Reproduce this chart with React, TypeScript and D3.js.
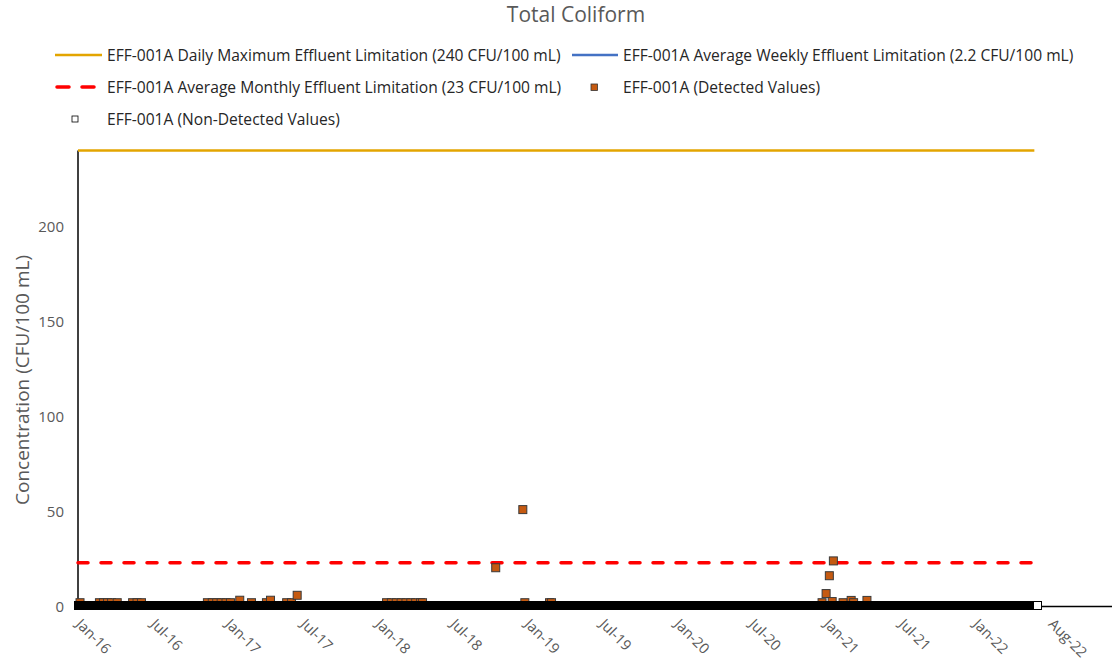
import React from 'react';
import * as d3 from 'd3';

const parse = d3.timeParse('%Y-%m-%d');

// ---- data ----
const chartTitle = 'Total Coliform';
const yAxisTitle = 'Concentration (CFU/100 mL)';
const xDomain = ['2016-01-01', '2023-01-01'];
const yDomain = [0, 240];
const yTicks = [0, 50, 100, 150, 200];
const xTickDates = [
  '2016-01-01', '2016-07-04', '2017-01-05', '2017-07-10', '2018-01-11', '2018-07-15', '2019-01-15',
  '2019-07-19', '2020-01-20', '2020-07-23', '2021-01-24', '2021-07-28', '2022-01-28', '2022-08-02',
];

const dailyMaxLimit = 240;
const weeklyLimit = 2.2;
const monthlyLimit = 23;
const limitPeriod = ['2016-01-01', '2022-06-23'];

const detectedDates = [
  '2016-01-06', '2016-02-23', '2016-03-04', '2016-03-14', '2016-03-24', '2016-04-07',
  '2016-05-15', '2016-05-26', '2016-06-06',
  '2016-11-16', '2016-11-28', '2016-12-09', '2016-12-20', '2017-01-01', '2017-01-12',
  '2017-02-04', '2017-03-05', '2017-04-11', '2017-04-21', '2017-05-31', '2017-06-12', '2017-06-26',
  '2018-02-02', '2018-02-14', '2018-02-26', '2018-03-10', '2018-03-22', '2018-04-03', '2018-04-15',
  '2018-04-27', '2018-05-02',
  '2018-10-30', '2019-01-05', '2019-01-10', '2019-03-12', '2019-03-17',
  '2021-01-14', '2021-01-24', '2021-02-01', '2021-02-08', '2021-02-11', '2021-03-07', '2021-03-27',
  '2021-04-02', '2021-05-05',
];
const detectedValues = [
  2, 2, 2, 2, 2, 2,
  2, 2, 2,
  2, 2, 2, 2, 2, 2,
  3.3, 2, 2, 3.3, 2, 2, 5.9,
  2, 2, 2, 2, 2, 2, 2,
  2, 2,
  20.4, 51, 2, 2, 2,
  2, 6.8, 16.2, 2.6, 24, 2, 3.2,
  2, 3.2,
];

// daily monitoring period with non-detected results
const nonDetectPeriod = ['2016-01-01', '2022-06-30'];
const nonDetectValue = 0.5;

const legendLabels = [
  'EFF-001A Daily Maximum Effluent Limitation (240 CFU/100 mL)',
  'EFF-001A Average Weekly Effluent Limitation (2.2 CFU/100 mL)',
  'EFF-001A Average Monthly Effluent Limitation (23 CFU/100 mL)',
  'EFF-001A (Detected Values)',
  'EFF-001A (Non-Detected Values)',
];

// ---- style ----
const W = 1116;
const H = 661;
const FONT = '"Open Sans", "Noto Sans", sans-serif';
const TXT = '#595959';
const GOLD = '#E3A500';
const BLUE = '#4472C4';
const RED = '#FF0000';
const ORANGE = '#C55A11';

export default function App() {
  const x = d3.scaleTime().domain(xDomain.map((d) => parse(d) as Date)).range([78, 1112]);
  const y = d3.scaleLinear().domain(yDomain).range([606.5, 150.5]);

  const limStart = parse(limitPeriod[0]) as Date;
  const limEnd = parse(limitPeriod[1]) as Date;
  const lineGen = d3
    .line<[Date, number]>()
    .x((d) => x(d[0]))
    .y((d) => y(d[1]));
  const limitPath = (v: number) => lineGen([[limStart, v], [limEnd, v]]) as string;

  const ndStart = parse(nonDetectPeriod[0]) as Date;
  const ndEnd = d3.timeDay.offset(parse(nonDetectPeriod[1]) as Date, 1);
  const ndDates = d3.timeDay.range(ndStart, ndEnd);

  const detected = detectedDates.map((d, i) => ({ date: parse(d) as Date, value: detectedValues[i] }));

  const fmt = d3.timeFormat('%b-%y');
  const ms = 8;

  return (
    <svg
      width={W}
      height={H}
      style={{ position: 'absolute', left: 0, top: 0, background: '#fff' }}
      fontFamily={FONT}
    >
      <rect width={W} height={H} fill="#fff" />
      {/* title */}
      <text x={576} y={22} textAnchor="middle" fontSize={21} fill={TXT}>
        {chartTitle}
      </text>

      {/* legend */}
      <g fontSize={15.6} fill="#262626">
        <line x1={55} x2={102} y1={55} y2={55} stroke={GOLD} strokeWidth={2.5} />
        <text x={107} y={60.5}>{legendLabels[0]}</text>
        <line x1={572} x2={618} y1={55} y2={55} stroke={BLUE} strokeWidth={2.5} />
        <text x={623} y={60.5}>{legendLabels[1]}</text>
        <line
          x1={57}
          x2={102}
          y1={87}
          y2={87}
          stroke={RED}
          strokeWidth={3.5}
          strokeDasharray="12 13"
          strokeLinecap="round"
        />
        <text x={107} y={92.5}>{legendLabels[2]}</text>
        <rect x={591} y={84} width={6.5} height={6.5} fill={ORANGE} stroke="#333" strokeWidth={0.8} />
        <text x={623} y={92.5}>{legendLabels[3]}</text>
        <rect x={72} y={116} width={6} height={6} fill="#fff" stroke="#000" strokeWidth={0.8} />
        <text x={107} y={124.5}>{legendLabels[4]}</text>
      </g>

      {/* y axis title */}
      <text
        transform={`translate(29,380) rotate(-90)`}
        textAnchor="middle"
        fontSize={19}
        fill={TXT}
      >
        {yAxisTitle}
      </text>

      {/* y tick labels */}
      <g fontSize={15} fill={TXT} textAnchor="end">
        {yTicks.map((t) => (
          <text key={t} x={64} y={y(t) + 5.5}>
            {t}
          </text>
        ))}
      </g>

      {/* x tick labels */}
      <g fontSize={14.5} fill={TXT}>
        {xTickDates.map((d) => {
          const px = x(parse(d) as Date);
          return (
            <text key={d} transform={`translate(${px - 3},${625}) rotate(45)`}>
              {fmt(parse(d) as Date)}
            </text>
          );
        })}
      </g>

      {/* axes */}
      <line x1={78} x2={78} y1={y(240)} y2={y(0)} stroke="#000" strokeWidth={1.5} />
      <line x1={78} x2={1112} y1={y(0)} y2={y(0)} stroke="#000" strokeWidth={1.3} />

      {/* limit lines */}
      <path d={limitPath(dailyMaxLimit)} stroke={GOLD} strokeWidth={2.5} fill="none" />
      <path d={limitPath(weeklyLimit)} stroke={BLUE} strokeWidth={2.5} fill="none" />
      <path
        d={limitPath(monthlyLimit)}
        stroke={RED}
        strokeWidth={3.5}
        fill="none"
        strokeDasharray="10 13"
        strokeLinecap="round"
      />

      {/* detected values */}
      <g>
        {detected.map((d, i) => (
          <rect
            key={i}
            x={x(d.date) - ms / 2}
            y={y(d.value) - ms / 2}
            width={ms}
            height={ms}
            fill={ORANGE}
            stroke="#3a3a3a"
            strokeWidth={1}
          />
        ))}
      </g>

      {/* non-detected values */}
      <g shapeRendering="crispEdges">
        {ndDates.map((d, i) => (
          <rect
            key={i}
            x={x(d) - ms / 2}
            y={y(nonDetectValue) - ms / 2}
            width={ms}
            height={ms}
            fill="#fff"
            stroke="#000"
            strokeWidth={1}
          />
        ))}
      </g>
    </svg>
  );
}
